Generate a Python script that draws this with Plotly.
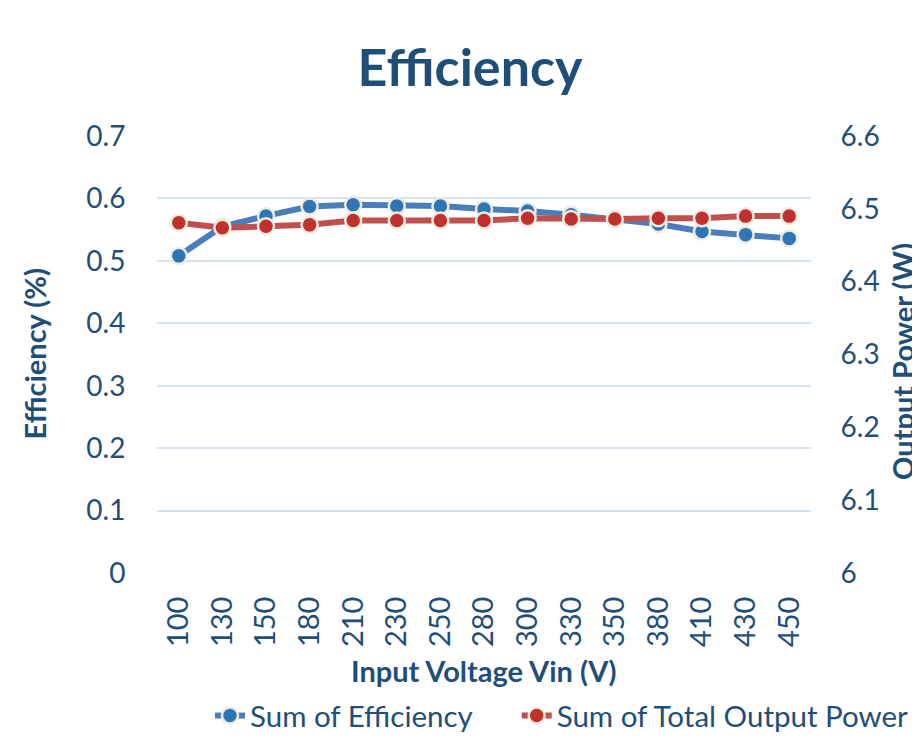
import plotly.graph_objects as go

vin = ["100", "130", "150", "180", "210", "230", "250", "280", "300", "330", "350", "380", "410", "430", "450"]
efficiency = [0.508, 0.555, 0.572, 0.587, 0.590, 0.588, 0.588, 0.583, 0.580, 0.574, 0.567, 0.559, 0.547, 0.542, 0.536]
output_power = [6.481, 6.474, 6.476, 6.478, 6.484, 6.484, 6.484, 6.484, 6.487, 6.486, 6.486, 6.487, 6.487, 6.490, 6.490]

navy = "#1F4E79"
font_family = "Lato, 'Noto Sans', sans-serif"

fig = go.Figure()
fig.add_trace(go.Scatter(
    x=vin, y=efficiency, name="Sum of Efficiency", mode="lines+markers", legend="legend",
    showlegend=True,
    line=dict(color="#4A7EBB", width=6),
    marker=dict(color="#2E75B6", size=16, line=dict(color="#EEECE1", width=2.5)),
))
fig.add_trace(go.Scatter(
    x=vin, y=output_power, name="Sum of Total Output Power", mode="lines+markers", legend="legend2",
    showlegend=True,
    line=dict(color="#C0504D", width=6), yaxis="y2",
    marker=dict(color="#C0302D", size=16, line=dict(color="#EEECE1", width=2.5)),
))

legend_style = dict(orientation="h", xanchor="left", y=-0.327, yanchor="middle", visible=True,
                    font=dict(size=29.5, color=navy), bgcolor="rgba(0,0,0,0)")

fig.update_layout(
    width=912, height=733, showlegend=True,
    margin=dict(l=149, r=109, t=128, b=168, autoexpand=False),
    paper_bgcolor="white", plot_bgcolor="white",
    font=dict(family=font_family, color=navy, size=28),
    title=dict(text="<b>Efficiency</b>", x=0.5066, xanchor="center", y=0.918, yanchor="middle",
               font=dict(size=52, color=navy, family=font_family)),
    xaxis=dict(type="category", range=[-0.5, 14.5], tickangle=-90, showgrid=False, showline=False,
               zeroline=False, ticks="outside", ticklen=11, tickcolor="rgba(0,0,0,0)",
               tickfont=dict(size=29, color=navy)),
    yaxis=dict(range=[0, 0.7], dtick=0.1, showgrid=True, gridcolor="#D6E1F1", gridwidth=1.5,
               zeroline=False, showline=False, ticks="outside", ticklen=25, tickcolor="rgba(0,0,0,0)",
               tickfont=dict(size=28, color=navy), tickformat="~g"),
    yaxis2=dict(range=[6.0, 6.6], dtick=0.1, overlaying="y", side="right", showgrid=False,
                zeroline=False, showline=False, ticks="outside", ticklen=23, tickcolor="rgba(0,0,0,0)",
                tickfont=dict(size=28, color=navy), tickformat="~g"),
    legend=dict(x=0.081, **legend_style),
    legend2=dict(x=0.550, **legend_style),
    annotations=[
        dict(text="<b>Input Voltage Vin (V)</b>", xref="paper", yref="paper", x=0.5, y=0, yshift=-97,
             xanchor="center", yanchor="middle", showarrow=False, font=dict(size=29, color=navy)),
        dict(text="<b>Efficiency (%)</b>", xref="paper", yref="paper", x=0, xshift=-123, y=0.5,
             xanchor="center", yanchor="middle", textangle=-90, showarrow=False,
             font=dict(size=29, color=navy)),
        dict(text="<b>Output Power (W)</b>", xref="paper", yref="paper", x=1, xshift=92, y=0.483,
             xanchor="center", yanchor="middle", textangle=-90, showarrow=False,
             font=dict(size=29, color=navy)),
    ],
)

fig.write_html("out.html")
